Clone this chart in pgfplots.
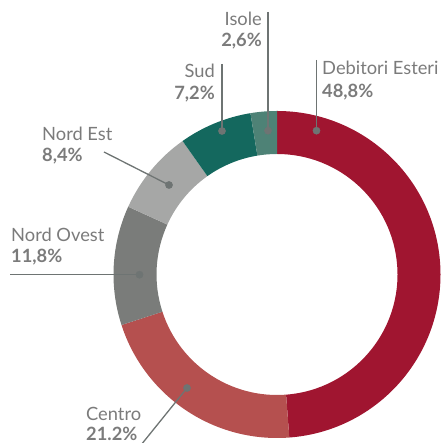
\documentclass[border=0pt]{standalone}
\usepackage{fontspec}
\setmainfont{Lato}
\usepackage{pgfplots}
\pgfplotsset{compat=1.18}
\usetikzlibrary{calc}
\definecolor{cDeb}{HTML}{A01530}
\definecolor{cCen}{HTML}{B5504F}
\definecolor{cNO}{HTML}{7A7C7A}
\definecolor{cNE}{HTML}{A6A7A6}
\definecolor{cSud}{HTML}{14685E}
\definecolor{cIso}{HTML}{4E8276}
\definecolor{cLine}{HTML}{6E7473}
\definecolor{cTxt}{HTML}{7B7B7B}
% ring slice: #1 cumulative start %, #2 cumulative end %, #3 colour
\newcommand{\ring}[3]{%
  \fill[#3] ($(axis cs:277,168.5)+({90-#1*3.6}:163.5pt)$)
    arc[start angle={90-#1*3.6}, end angle={90-#2*3.6}, radius=163.5pt]
    -- ($(axis cs:277,168.5)+({90-#2*3.6}:120.5pt)$)
    arc[start angle={90-#2*3.6}, end angle={90-#1*3.6}, radius=120.5pt]
    -- cycle;}
\newcommand{\lab}[4]{% x, y, anchor, text
  \node[anchor=base #3, inner sep=0pt, text=cTxt, font=\fontsize{18.3}{20}\selectfont] at (axis cs:#1,#2) {#4};}
\begin{document}
\begin{tikzpicture}
\begin{axis}[width=444pt, height=443pt, scale only axis,
  xmin=0, xmax=444, ymin=0, ymax=443, hide axis, clip=false]
% data: Debitori Esteri 48.8, Centro 21.2, Nord Ovest 11.8, Nord Est 8.4, Sud 7.2, Isole 2.6
\ring{0}{48.8}{cDeb}
\ring{48.8}{70.0}{cCen}
\ring{70.0}{81.8}{cNO}
\ring{81.8}{90.2}{cNE}
\ring{90.2}{97.4}{cSud}
\ring{97.4}{100}{cIso}
% leader lines
\addplot[cLine, line width=1.3pt, no marks] coordinates {(316.5,383) (316.5,312.3)};
\addplot[cLine, line width=1.3pt, no marks] coordinates {(268,431) (268,312.3)};
\addplot[cLine, line width=1.3pt, no marks] coordinates {(222,379) (222,312)};
\addplot[cLine, line width=1.3pt, no marks] coordinates {(104,291) (169,258)};
\addplot[cLine, line width=1.3pt, no marks] coordinates {(10,168.3) (139.5,168.3)};
\addplot[cLine, line width=1.3pt, no marks] coordinates {(141,-2) (187,55)};
\addplot[only marks, mark=*, mark size=3.6pt, cLine] coordinates {(316.5,312.3) (268,312.3) (222,312) (169,258) (139.5,168.3) (187,55)};
% labels
\lab{322}{368}{west}{Debitori Esteri}
\lab{322}{345.5}{west}{\bfseries 48,8\%}
\lab{262}{417}{east}{Isole}
\lab{262}{396}{east}{\bfseries 2,6\%}
\lab{215}{365}{east}{Sud}
\lab{215}{343}{east}{\bfseries 7,2\%}
\lab{42}{302.5}{west}{Nord Est}
\lab{42}{281.5}{west}{\bfseries 8,4\%}
\lab{11}{201}{west}{Nord Ovest}
\lab{11}{180}{west}{\bfseries 11,8\%}
\lab{86}{22.5}{west}{Centro}
\lab{86}{2.5}{west}{\bfseries 21.2\%}
\end{axis}
\pgfresetboundingbox
\path (0,0) rectangle (444pt,443pt);
\end{tikzpicture}
\end{document}
